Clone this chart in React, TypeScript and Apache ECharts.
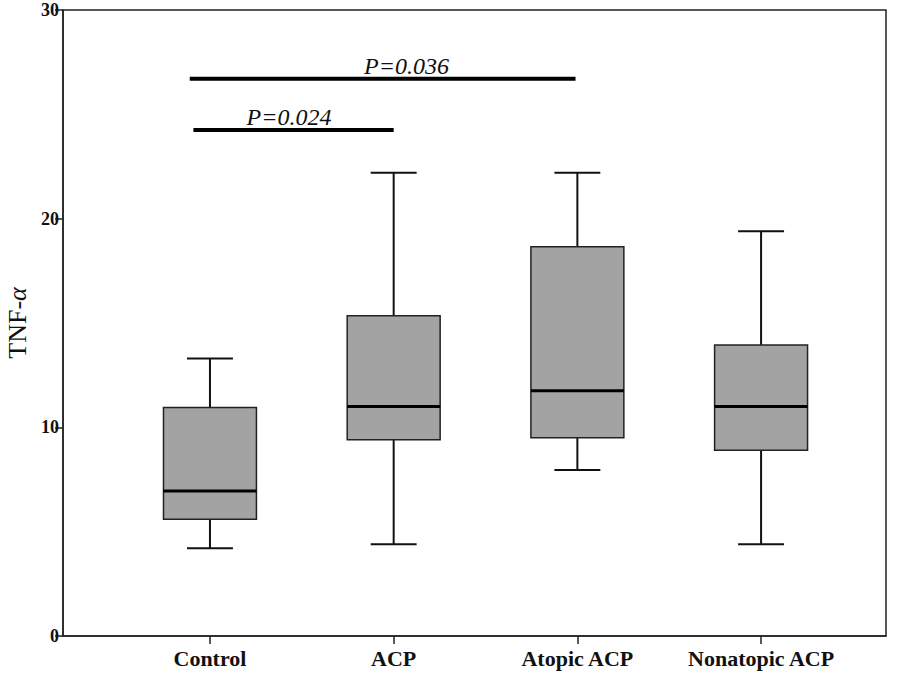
import React, { useEffect, useRef } from "react";
import * as echarts from "echarts";

const categories = ["Control", "ACP", "Atopic ACP", "Nonatopic ACP"];
// [low whisker, Q1, median, Q3, high whisker]
const lowWhisker = [4.2, 4.4, 7.95, 4.4];
const q1 = [5.6, 9.4, 9.5, 8.9];
const median = [6.95, 11.0, 11.75, 11.0];
const q3 = [10.95, 15.35, 18.65, 13.95];
const highWhisker = [13.3, 22.2, 22.2, 19.4];

// significance bars: [from index, to index, y level, label x, label]
const sigFrom = [-0.11, -0.09];
const sigTo = [1.99, 1.0];
const sigY = [26.7, 24.25];
const sigLabelX = [1.07, 0.43];
const sigLabel = ["P=0.036", "P=0.024"];

const SERIF = '"Liberation Serif", "Times New Roman", serif';

export default function App() {
  const ref = useRef<HTMLDivElement>(null);
  useEffect(() => {
    if (!ref.current) return;
    const chart = echarts.init(ref.current, undefined, { renderer: "svg" });
    const boxData = categories.map((_, i) => [i, lowWhisker[i], q1[i], median[i], q3[i], highWhisker[i]]);
    const sigData = sigLabel.map((l, i) => [sigFrom[i], sigTo[i], sigY[i], sigLabelX[i], l]);
    chart.setOption({
      animation: false,
      backgroundColor: "#fff",
      grid: {
        left: 63,
        right: 12,
        top: 10,
        bottom: 48,
        containLabel: false,
        outerBoundsMode: "none",
        show: true,
        borderColor: "#222",
        borderWidth: 1.5,
        backgroundColor: "transparent",
      },
      xAxis: {
        type: "value",
        min: -0.8,
        max: 3.68,
        splitLine: { show: false },
        axisLine: { show: true, onZero: false, lineStyle: { color: "#222", width: 1.5 } },
        axisTick: { show: true, customValues: [0, 1, 2, 3], length: 8, lineStyle: { color: "#222", width: 1.5 } },
        axisLabel: {
          customValues: [0, 1, 2, 3],
          formatter: (v: number) => categories[Math.round(v)] ?? "",
          fontFamily: SERIF,
          fontWeight: "bold",
          fontSize: 22,
          color: "#111",
          margin: 11,
        },
      },
      yAxis: {
        type: "value",
        min: 0,
        max: 30,
        interval: 10,
        name: "TNF-{a|α}",
        nameLocation: "middle",
        nameGap: 33,
        nameRotate: 90,
        nameTextStyle: {
          fontFamily: SERIF,
          fontSize: 26,
          color: "#111",
          rich: { a: { fontFamily: SERIF, fontStyle: "italic", fontSize: 26, color: "#111" } },
        },
        splitLine: { show: false },
        axisLine: { show: true, onZero: false, lineStyle: { color: "#222", width: 1.5 } },
        axisTick: { show: true, length: 8, lineStyle: { color: "#222", width: 1.5 } },
        axisLabel: {
          fontFamily: SERIF,
          fontWeight: "bold",
          fontSize: 18,
          color: "#111",
          margin: 4,
        },
      },
      series: [
        {
          type: "custom",
          data: boxData,
          encode: { x: 0, y: [1, 2, 3, 4, 5] },
          renderItem: (params: any, api: any) => {
            const x = api.value(0);
            const cx = api.coord([x, api.value(3)])[0];
            const yl = api.coord([x, api.value(1)])[1];
            const y1 = api.coord([x, api.value(2)])[1];
            const ym = api.coord([x, api.value(3)])[1];
            const y3 = api.coord([x, api.value(4)])[1];
            const yh = api.coord([x, api.value(5)])[1];
            const unit = api.size([1, 0])[0];
            const hw = unit * 0.253;
            const cw = unit * 0.125;
            const ls = { stroke: "#111", lineWidth: 2 };
            return {
              type: "group",
              children: [
                { type: "line", shape: { x1: cx, y1: yl, x2: cx, y2: y1 }, style: ls },
                { type: "line", shape: { x1: cx - cw, y1: yl, x2: cx + cw, y2: yl }, style: ls },
                { type: "line", shape: { x1: cx, y1: y3, x2: cx, y2: yh }, style: ls },
                { type: "line", shape: { x1: cx - cw, y1: yh, x2: cx + cw, y2: yh }, style: ls },
                {
                  type: "rect",
                  shape: { x: cx - hw, y: y3, width: 2 * hw, height: y1 - y3 },
                  style: { fill: "#a3a3a3", stroke: "#222", lineWidth: 1.5 },
                },
                { type: "line", shape: { x1: cx - hw, y1: ym, x2: cx + hw, y2: ym }, style: { stroke: "#000", lineWidth: 3 } },
              ],
            };
          },
        },
        {
          type: "custom",
          data: sigData,
          encode: { x: [0, 1, 3], y: 2 },
          renderItem: (params: any, api: any) => {
            const p1 = api.coord([api.value(0), api.value(2)]);
            const p2 = api.coord([api.value(1), api.value(2)]);
            const pl = api.coord([api.value(3), api.value(2)]);
            return {
              type: "group",
              children: [
                { type: "line", shape: { x1: p1[0], y1: p1[1], x2: p2[0], y2: p2[1] }, style: { stroke: "#000", lineWidth: 4 } },
                {
                  type: "text",
                  x: pl[0],
                  y: pl[1] - 1,
                  style: {
                    text: sigLabel[params.dataIndex],
                    align: "center",
                    verticalAlign: "bottom",
                    fontFamily: SERIF,
                    fontStyle: "italic",
                    fontSize: 24,
                    fill: "#111",
                  },
                },
              ],
            };
          },
        },
      ],
    });
    return () => chart.dispose();
  }, []);
  return <div ref={ref} style={{ position: "absolute", left: 0, top: 0, width: 898, height: 684 }} />;
}
